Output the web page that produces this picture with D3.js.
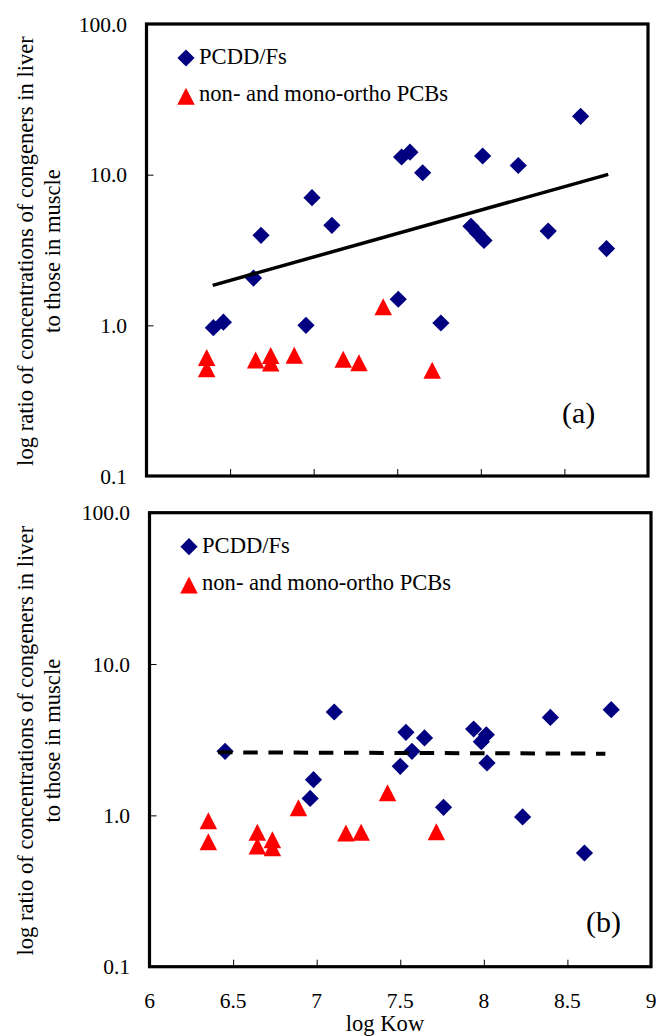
<!DOCTYPE html>
<html>
<head>
<meta charset="utf-8">
<script src="https://cdn.jsdelivr.net/npm/d3@7"></script>
<style>
  html, body { margin: 0; padding: 0; background: #fff; }
  svg { display: block; }
</style>
</head>
<body>
<svg id="chart" width="659" height="1036"></svg>
<script>
// ---------- data ----------
const xTicks = [6, 6.5, 7, 7.5, 8, 8.5, 9];
const xTickLabels = ["6", "6.5", "7", "7.5", "8", "8.5", "9"];
const yTicks = [0.1, 1, 10, 100];
const yTickLabels = ["0.1", "1.0", "10.0", "100.0"];
const legendLabels = ["PCDD/Fs", "non- and mono-ortho PCBs"];
const panelLabels = ["(a)", "(b)"];
const yTitleLines = ["log ratio of concentrations of congeners in liver", "to those in muscle"];
const xTitle = "log Kow";

// panel (a)
const pcddA_x = [6.40, 6.46, 6.64, 6.685, 6.954, 6.99, 7.109, 7.506, 7.526, 7.576, 7.652, 7.761, 7.941, 7.98, 8.011, 8.019, 8.224, 8.403, 8.597, 8.752];
const pcddA_y = [0.965, 1.05, 2.06, 3.96, 1.0, 7.04, 4.61, 1.49, 13.1, 14.1, 10.3, 1.036, 4.54, 4.08, 13.3, 3.66, 11.5, 4.22, 24.4, 3.23];
const pcbA_x = [6.36, 6.36, 6.653, 6.743, 6.743, 6.884, 7.177, 7.271, 7.416, 7.709];
const pcbA_y = [0.611, 0.516, 0.589, 0.63, 0.562, 0.632, 0.595, 0.565, 1.33, 0.503];
const trendA_x = [6.396, 8.762];
const trendA_y = [1.843, 10.05];

// panel (b)
const pcddB_x = [6.452, 6.961, 6.981, 7.105, 7.500, 7.534, 7.570, 7.645, 7.759, 7.939, 7.985, 8.015, 8.019, 8.232, 8.398, 8.602, 8.762];
const pcddB_y = [2.65, 1.295, 1.72, 4.82, 2.11, 3.54, 2.65, 3.25, 1.13, 3.72, 3.07, 3.41, 2.22, 0.976, 4.44, 0.564, 4.99];
const pcbB_x = [6.352, 6.352, 6.645, 6.645, 6.735, 6.735, 6.891, 7.175, 7.266, 7.424, 7.716];
const pcbB_y = [0.923, 0.67, 0.772, 0.628, 0.691, 0.612, 1.124, 0.765, 0.772, 1.413, 0.78];
const trendB_x = [6.41, 8.727];
const trendB_y = [2.61, 2.557];

// ---------- drawing ----------
const FONT = "'Liberation Serif', 'Times New Roman', Times, serif";
const svg = d3.select("#chart").attr("font-family", FONT);
const NAVY = "#000080", RED = "#ff0000";
const FS_TICK = 21.5, FS_TXT = 22.6, FS_PANEL = 30;

const panels = [
  { left: 146.5, right: 648, top: 24, bottom: 476,
    dx: pcddA_x, dy: pcddA_y, tx: pcbA_x, ty: pcbA_y, lx: trendA_x, ly: trendA_y, dash: null,
    label: panelLabels[0], labelPos: [562, 423], showX: false },
  { left: 149.5, right: 651, top: 512.7, bottom: 966.7,
    dx: pcddB_x, dy: pcddB_y, tx: pcbB_x, ty: pcbB_y, lx: trendB_x, ly: trendB_y, dash: "14.5,10.7",
    label: panelLabels[1], labelPos: [586, 932], showX: true }
];

const diamond = s => `M0,${-s}L${s},0L0,${s}L${-s},0Z`;
const triangle = (w, h) => `M0,${-h/2}L${w/2},${h/2}L${-w/2},${h/2}Z`;

function txt(sel) { return sel.attr("font-family", FONT).attr("fill", "#000"); }

panels.forEach(p => {
  const x = d3.scaleLinear().domain([6, 9]).range([p.left, p.right]);
  const y = d3.scaleLog().domain([0.1, 100]).range([p.bottom, p.top]);
  const g = svg.append("g");

  // y ticks (inward)
  const yAxis = d3.axisRight(y).tickValues(yTicks).tickSize(7).tickFormat("");
  g.append("g").attr("transform", `translate(${p.left},0)`).call(yAxis)
    .call(a => a.select(".domain").remove())
    .call(a => a.selectAll("line").attr("stroke", "#000").attr("stroke-width", 1));
  // x ticks (inward)
  const xAxis = d3.axisTop(x).tickValues(xTicks.slice(1, -1)).tickSize(7).tickFormat("");
  g.append("g").attr("transform", `translate(0,${p.bottom})`).call(xAxis)
    .call(a => a.select(".domain").remove())
    .call(a => a.selectAll("line").attr("stroke", "#000").attr("stroke-width", 1));

  // y tick labels
  txt(g.selectAll(".ylab").data(yTicks).join("text"))
    .attr("x", p.left - 19.5).attr("y", d => y(d)).attr("dy", "0.35em")
    .attr("text-anchor", "end").attr("font-size", FS_TICK)
    .text((d, i) => yTickLabels[i]);

  // x tick labels
  if (p.showX) {
    txt(g.selectAll(".xlab").data(xTicks).join("text"))
      .attr("x", d => x(d)).attr("y", p.bottom + 41.5)
      .attr("text-anchor", "middle").attr("font-size", FS_TICK)
      .text((d, i) => xTickLabels[i]);
    txt(g.append("text")).attr("x", 385).attr("y", 1031).attr("text-anchor", "middle")
      .attr("font-size", FS_TXT).text(xTitle);
  }

  // y title
  const cy = (p.top + p.bottom) / 2 + 1;
  [33, 60].forEach((bx, i) => {
    txt(g.append("text")).attr("transform", `translate(${bx},${cy}) rotate(-90)`)
      .attr("text-anchor", "middle").attr("font-size", FS_TXT).text(yTitleLines[i]);
  });

  // markers
  g.selectAll(".pcdd").data(p.dx.map((v, i) => [v, p.dy[i]])).join("path")
    .attr("d", diamond(8.6)).attr("fill", NAVY)
    .attr("transform", d => `translate(${x(d[0])},${y(d[1])})`);
  g.selectAll(".pcb").data(p.tx.map((v, i) => [v, p.ty[i]])).join("path")
    .attr("d", triangle(17.5, 17)).attr("fill", RED)
    .attr("transform", d => `translate(${x(d[0])},${y(d[1])})`);

  // trend line
  const line = d3.line().x(d => x(d[0])).y(d => y(d[1]));
  const tl = g.append("path").datum(p.lx.map((v, i) => [v, p.ly[i]]))
    .attr("d", line).attr("fill", "none").attr("stroke", "#000").attr("stroke-width", p.dash ? 4 : 3.5);
  if (p.dash) tl.attr("stroke-dasharray", p.dash);

  // frame
  g.append("rect").attr("x", p.left).attr("y", p.top)
    .attr("width", p.right - p.left).attr("height", p.bottom - p.top)
    .attr("fill", "none").attr("stroke", "#000").attr("stroke-width", 3.2);

  // legend
  const lx0 = p.left + 39.5;
  const ly1 = p.top + 34, ly2 = p.top + 72.3;
  g.append("path").attr("d", diamond(8.6)).attr("fill", NAVY)
    .attr("transform", `translate(${lx0},${ly1})`);
  txt(g.append("text")).attr("x", lx0 + 13).attr("y", ly1 + 6).attr("font-size", FS_TXT).text(legendLabels[0]);
  g.append("path").attr("d", triangle(17.5, 17)).attr("fill", RED)
    .attr("transform", `translate(${lx0},${ly2})`);
  txt(g.append("text")).attr("x", lx0 + 13).attr("y", ly2 + 4.5).attr("font-size", FS_TXT).text(legendLabels[1]);

  // panel label
  txt(g.append("text")).attr("x", p.labelPos[0]).attr("y", p.labelPos[1]).attr("font-size", FS_PANEL).text(p.label);
});
</script>
</body>
</html>
